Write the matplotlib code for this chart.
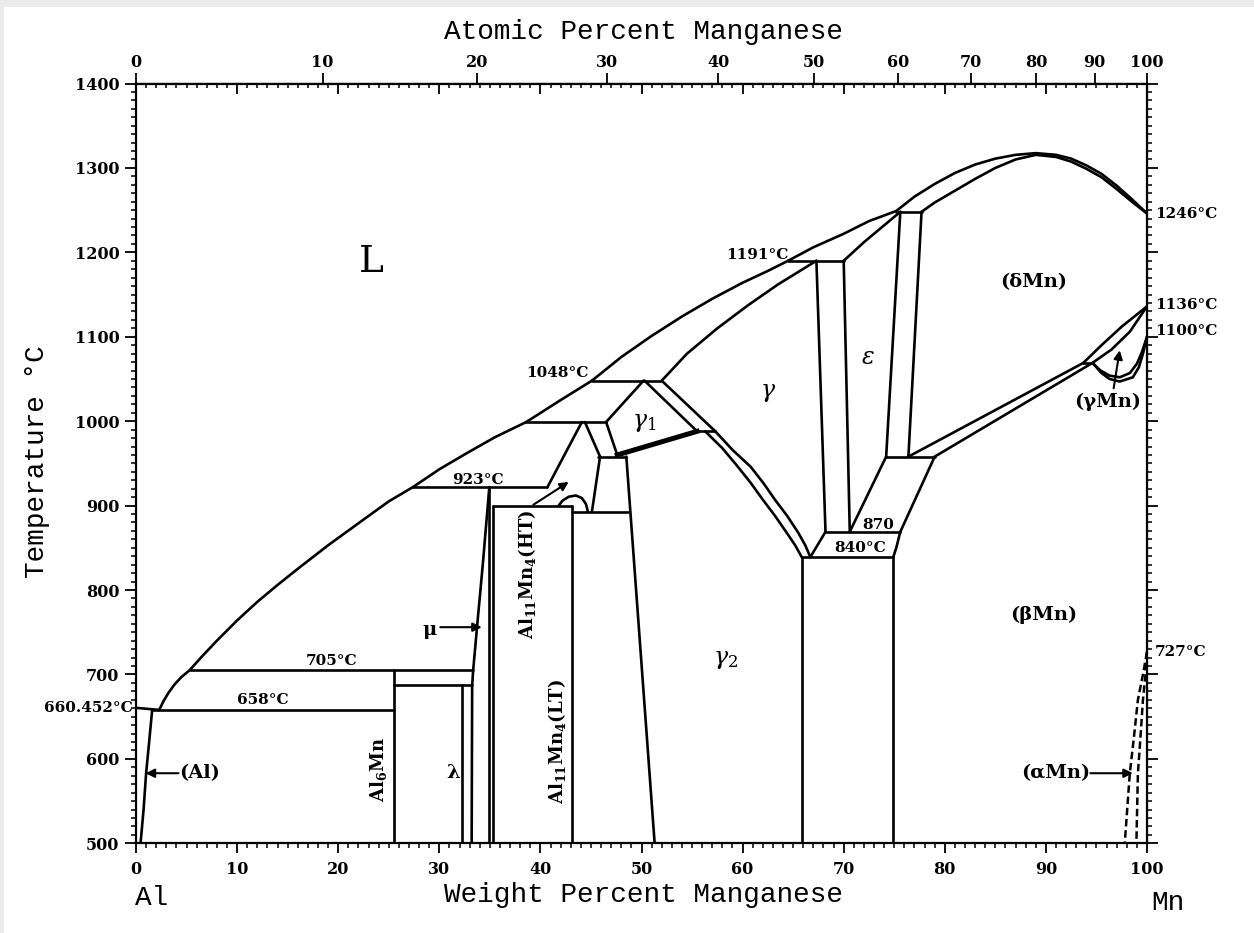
import numpy as np
import matplotlib.pyplot as plt
from matplotlib.patches import Rectangle
from matplotlib.ticker import MultipleLocator

plt.rcParams['font.family'] = 'DejaVu Serif'
plt.rcParams['mathtext.fontset'] = 'dejavuserif'

W_AL, W_MN = 26.982, 54.938

# phase boundaries, (wt% Mn, temperature in C)
liq_al = [(0, 660.452), (2.3, 658)]
al_solvus = [(1.6, 658), (1.3, 620), (1.0, 583), (0.75, 540), (0.45, 500)]
liq_1 = [(2.3, 658), (2.7, 668), (3.2, 678), (3.8, 688), (4.5, 697), (5.3, 705), (6.5, 721),
         (8, 740), (10, 764), (12, 786), (14, 806), (16.2, 827), (19, 853), (22.8, 886),
         (25, 905), (27.4, 922)]
liq_2 = [(27.4, 922), (30, 943), (32.7, 962), (35.5, 981), (38.6, 999), (42, 1025), (45.1, 1048)]
liq_3 = [(45.1, 1048), (48, 1076), (51, 1101), (54, 1124), (57, 1145), (60, 1164),
         (62.5, 1178), (64.5, 1190)]
liq_4 = [(64.5, 1190), (67, 1206), (70, 1222), (72.5, 1237), (75.2, 1249)]
liq_dome = [(75.2, 1249), (77, 1266), (79, 1281), (81, 1294), (83, 1304), (85, 1311),
            (87, 1315.5), (89, 1317.5), (91, 1315.5), (92.5, 1311), (94, 1303), (95.5, 1293),
            (97, 1279), (98.5, 1263), (100, 1246)]
sol_dome = [(77.7, 1248), (79, 1259), (81, 1273), (83, 1287), (85, 1300), (87, 1310),
            (89, 1315.5), (91, 1313), (92.5, 1307.5), (94, 1299), (95.5, 1289), (97, 1275),
            (98.5, 1260), (100, 1246)]
eps_solidus = [(70.0, 1190), (72, 1212), (74, 1232), (75.6, 1248)]
gam_solidus = [(52.0, 1048), (54.5, 1080), (57.5, 1110), (60.5, 1137), (63.5, 1162), (67.3, 1190)]

# isotherms
iso_lines = [
    [(1.6, 658), (25.5, 658)],
    [(5.3, 705), (33.35, 705)],
    [(25.5, 687), (33.25, 687)],
    [(27.4, 922), (40.7, 922)],
    [(35.3, 900), (43.15, 900)],
    [(43.15, 893), (48.7, 893)],
    [(45.7, 958), (48.5, 958)],
    [(38.6, 999), (46.5, 999)],
    [(45.1, 1048), (52.0, 1048)],
    [(64.5, 1190), (70.0, 1190)],
    [(75.2, 1248), (77.7, 1248)],
    [(55.5, 988), (57.3, 988)],
    [(68.2, 869), (75.6, 869)],
    [(65.85, 839), (74.9, 839)],
    [(74.2, 958), (79.0, 958)],
    [(93.7, 1069), (94.6, 1069)],
]

# near vertical and slanted boundaries
al6mn = [(25.5, 500), (25.5, 705)]
lam = [(32.2, 500), (32.2, 687)]
mu_left = [(33.2, 500), (33.25, 687), (33.35, 705), (33.8, 765), (34.3, 830), (34.95, 922)]
mu_right = [(34.95, 500), (34.95, 922)]
al11_left = [(35.3, 500), (35.3, 900)]
al11_right = [(43.15, 500), (43.15, 900)]
wedge_a = [(40.7, 922), (44.1, 999)]
wedge_b = [(44.4, 999), (45.9, 958)]
wedge_c = [(46.5, 999), (47.6, 960)]
wedge_d = [(45.9, 958), (45.1, 893)]
g2_left = [(48.5, 958), (51.3, 500)]
g1_left = [(46.5, 999), (50.2, 1048)]
g1_right = [(50.3, 1048), (55.5, 988)]
gam_left = [(52.0, 1048), (57.3, 988)]
g1_bottom = [(47.6, 960), (55.5, 988)]
g2_in = [(56.3, 988), (58, 968), (59.4, 948), (60.8, 927), (62.0, 907), (63.2, 888),
         (64.3, 869), (65.2, 853), (65.85, 839)]
g2_out = [(57.3, 988), (59, 966), (60.8, 946), (62.1, 926), (63.2, 907), (64.4, 888),
          (65.5, 868), (66.2, 853), (66.7, 839)]
ge_left = [(67.3, 1190), (68.2, 869)]
ge_right = [(70.0, 1190), (70.6, 869)]
eut_left = [(68.2, 869), (66.7, 839)]
eut_right = [(75.6, 869), (75.2, 850), (74.9, 839)]
e_slant = [(70.6, 869), (74.2, 958)]
ed_slant = [(75.6, 869), (79.0, 958)]
e_right = [(74.2, 958), (75.6, 1248)]
ed_right = [(76.4, 958), (77.7, 1248)]
box_left = [(65.85, 500), (65.85, 839)]
box_right = [(74.9, 500), (74.9, 839)]
gb_a = [(76.4, 958), (93.7, 1069)]
gb_b = [(79.0, 958), (94.6, 1069)]
dg_upper = [(93.7, 1069), (95.5, 1090), (97.5, 1112), (100, 1136)]
dg_lower = [(94.6, 1069), (96.5, 1085), (98.3, 1106), (100, 1136)]
gb_curve1 = [(94.6, 1069), (95.4, 1060), (96.3, 1054), (97.3, 1052), (98.3, 1057),
             (99.0, 1068), (99.5, 1082), (100, 1100)]
gb_curve2 = [(94.7, 1068), (95.5, 1057), (96.3, 1050), (97.3, 1047), (98.6, 1052),
             (99.2, 1064), (99.6, 1080), (100, 1100)]
dome_arc = [(41.8, 900), (42.2, 906), (42.8, 910.5), (43.5, 912), (44.1, 909), (44.5, 902),
            (44.7, 893)]
am_left = [(100, 727), (99.6, 700), (99.1, 670), (98.7, 625), (98.3, 583), (97.8, 500)]
am_right = [(100, 727), (99.85, 700), (99.6, 670), (99.35, 625), (99.1, 583), (98.95, 500)]

solid = [liq_al, al_solvus, liq_1, liq_2, liq_3, liq_4, liq_dome, sol_dome, eps_solidus,
         gam_solidus, al6mn, lam, mu_left, mu_right, al11_left, al11_right, wedge_a, wedge_b,
         wedge_c, wedge_d, g2_left, g1_left, g1_right, gam_left, g2_in, g2_out, ge_left,
         ge_right, eut_left, eut_right, e_slant, ed_slant, e_right, ed_right, box_left,
         box_right, gb_a, gb_b, dg_upper, dg_lower, gb_curve1, gb_curve2, dome_arc] + iso_lines

# labels
temp_labels = [("1191°C", 64.5, 1197, 'right'), ("1048°C", 44.8, 1057, 'right'),
               ("923°C", 33.8, 930, 'center'), ("705°C", 19.3, 716, 'center'),
               ("658°C", 12.5, 670, 'center'), ("660.452°C", -0.3, 660, 'right'),
               ("870", 73.4, 877, 'center'), ("840°C", 71.6, 850, 'center'),
               ("1246°C", 100.8, 1246, 'left'), ("1136°C", 100.8, 1138, 'left'),
               ("1100°C", 100.8, 1107, 'left'), ("727°C", 100.8, 727, 'left')]
phase_labels = [("(δMn)", 88.8, 1165), ("(γMn)", 96.1, 1023), ("(βMn)", 89.8, 771),
                ("(αMn)", 91.0, 583), ("(Al)", 6.25, 583), ("λ", 31.4, 583), ("μ", 29.0, 753)]
greek_labels = [(r"$\gamma_1$", 50.3, 999), (r"$\gamma$", 62.5, 1034),
                (r"$\varepsilon$", 72.4, 1076), (r"$\gamma_2$", 58.3, 718)]
rot_labels = [(r"$\mathbf{Al_6Mn}$", 24.0, 587), (r"$\mathbf{Al_{11}Mn_4(HT)}$", 38.7, 818),
              (r"$\mathbf{Al_{11}Mn_4(LT)}$", 41.6, 620)]
arrows = [((4.2, 583), (0.95, 583)), ((30.1, 756), (34.2, 756)), ((94.4, 583), (98.6, 583)),
          ((96.7, 1039), (97.3, 1084)), ((39.3, 901), (42.8, 928))]

wt_ticks = list(range(0, 101, 10))
at_ticks = list(range(0, 101, 10))
t_ticks = list(range(500, 1401, 100))


def wt_to_at(w):
    w = np.clip(np.asarray(w, dtype=float), 0, 100)
    a = w / W_MN
    b = (100 - w) / W_AL
    return 100 * a / (a + b)


def at_to_wt(a):
    a = np.clip(np.asarray(a, dtype=float), 0, 100)
    m = a * W_MN
    n = (100 - a) * W_AL
    return 100 * m / (m + n)


fig = plt.figure(figsize=(12.54, 9.33), dpi=100, facecolor='#ebebeb')
fig.add_artist(Rectangle((4 / 1254, 0), 1, 1 - 7 / 933, transform=fig.transFigure,
                         facecolor='white', edgecolor='none', zorder=0))
ax = fig.add_axes([136 / 1254, 1 - 843.3 / 933, 1011 / 1254, 759.8 / 933])
ax.set_xlim(0, 100)
ax.set_ylim(500, 1400)

for pts in solid:
    x, y = zip(*pts)
    ax.plot(x, y, color='k', lw=1.9, solid_capstyle='round', solid_joinstyle='round')
x, y = zip(*g1_bottom)
ax.plot(x, y, color='k', lw=3.6)
for pts in (am_left, am_right):
    x, y = zip(*pts)
    ax.plot(x, y, color='k', lw=1.8, ls=(0, (3, 1.5)))

for txt, x, y, ha in temp_labels:
    ax.text(x, y, txt, ha=ha, va='center', fontsize=11, fontweight='bold', clip_on=False)
for txt, x, y in phase_labels:
    ax.text(x, y, txt, ha='center', va='center', fontsize=14, fontweight='bold')
for txt, x, y in greek_labels:
    ax.text(x, y, txt, ha='center', va='center', fontsize=17)
for txt, x, y in rot_labels:
    ax.text(x, y, txt, ha='center', va='center', fontsize=13, rotation=90)
ax.text(23.3, 1188, "L", ha='center', va='center', fontsize=27)

for tail, tip in arrows:
    ax.annotate('', xy=tip, xytext=tail,
                arrowprops=dict(arrowstyle='-|>', color='k', lw=1.5, mutation_scale=13,
                                shrinkA=0, shrinkB=0))

# axes, ticks
for s in ax.spines.values():
    s.set_linewidth(1.6)
ax.set_xticks(wt_ticks, labels=[str(v) for v in wt_ticks], fontsize=11.5, fontweight='bold')
ax.set_yticks(t_ticks, labels=[str(v) for v in t_ticks], fontsize=11.5, fontweight='bold')
ax.xaxis.set_minor_locator(MultipleLocator(1))
ax.yaxis.set_minor_locator(MultipleLocator(10))
ax.tick_params(axis='x', which='major', direction='out', length=7, width=1.3, pad=6)
ax.tick_params(axis='y', which='major', direction='out', length=8, width=1.3, pad=4)
ax.tick_params(which='minor', direction='out', length=3.5, width=1.1)

top_wt = ax.secondary_xaxis('top')
top_wt.set_xticks(wt_ticks, labels=[])
top_wt.xaxis.set_minor_locator(MultipleLocator(1))
top_wt.tick_params(which='major', direction='in', length=8, width=1.3)
top_wt.tick_params(which='minor', direction='in', length=3.5, width=1.1)

top_at = ax.secondary_xaxis('top', functions=(wt_to_at, at_to_wt))
top_at.set_xticks(at_ticks, labels=[str(v) for v in at_ticks], fontsize=11.5,
                  fontweight='bold')
top_at.tick_params(which='major', direction='out', length=7, width=1.3, pad=2)

right_t = ax.secondary_yaxis('right')
right_t.set_yticks(t_ticks, labels=[])
right_t.yaxis.set_minor_locator(MultipleLocator(10))
right_t.tick_params(which='major', direction='out', length=8, width=1.3)
right_t.tick_params(which='minor', direction='out', length=3.5, width=1.1)

mono = dict(family='Liberation Mono', fontsize=20, ha='center', va='center')
fig.text(643 / 1254, 1 - 895 / 933, "Weight Percent Manganese", **mono)
fig.text(643 / 1254, 1 - 32 / 933, "Atomic Percent Manganese", **mono)
fig.text(37 / 1254, 1 - 462 / 933, "Temperature °C", rotation=90, **mono)
fig.text(152 / 1254, 1 - 898 / 933, "Al", **mono)
fig.text(1168 / 1254, 1 - 903 / 933, "Mn", **mono)

fig.savefig('out.png', dpi=100, facecolor=fig.get_facecolor())
